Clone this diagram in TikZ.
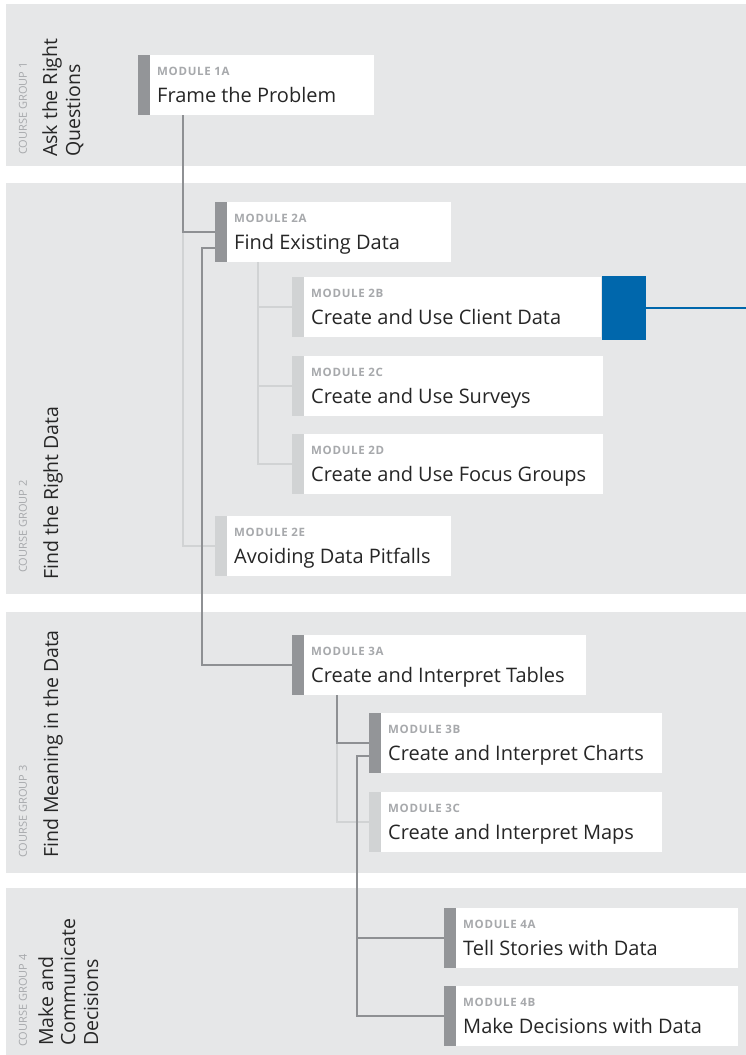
\documentclass[tikz,border=0pt]{standalone}
\usepackage{fontspec}
\setmainfont{Open Sans}
\newfontfamily\labelfont{Open Sans}[LetterSpace=6]
\usetikzlibrary{calc}

\definecolor{band}{HTML}{E6E7E8}
\definecolor{bardark}{HTML}{939598}
\definecolor{barlight}{HTML}{D1D3D4}
\definecolor{linedark}{HTML}{8E9093}
\definecolor{linelight}{HTML}{D1D3D4}
\definecolor{modlabel}{HTML}{A7A9AC}
\definecolor{titletext}{HTML}{262626}
\definecolor{accent}{HTML}{0067AC}

\tikzset{
  bandfill/.style={fill=band, draw=none},
  modbody/.style={fill=white, draw=none, inner sep=0pt, minimum height=60pt, anchor=north west},
  modbar/.style={fill=#1, draw=none, inner sep=0pt, minimum width=12pt, minimum height=60pt, anchor=north east},
  modlbl/.style={anchor=base west, inner sep=0pt, text=modlabel, font=\labelfont\fontsize{11.5}{13}\selectfont\bfseries},
  modttl/.style={anchor=base west, inner sep=0pt, text=titletext, font=\fontsize{20}{24}\selectfont},
  grplbl/.style={anchor=base west, inner sep=0pt, rotate=90, text=modlabel, font=\fontsize{11}{13}\selectfont},
  grpttl/.style={anchor=base west, inner sep=0pt, rotate=90, text=titletext, font=\fontsize{19.5}{23}\selectfont},
  darkline/.style={draw=linedark, line width=2.4pt},
  lightline/.style={draw=linelight, line width=2pt},
  accentline/.style={draw=accent, line width=2pt},
}

% #1 name, #2 bar colour, #3 bar left x, #4 top y, #5 body width, #6 label, #7 title
\newcommand\modulecard[7]{%
  \node[modbody, minimum width=#5pt] (m#1) at (#3+12,#4) {};
  \node[modbar=#2] (b#1) at (m#1.north west) {};
  \node[modlbl] (l#1) at ($(m#1.north west)+(7,20)$) {#6};
  \node[modttl] (t#1) at ($(m#1.north west)+(7,47)$) {#7};
}

\begin{document}
\begin{tikzpicture}[x=1pt,y=-1pt]
\useasboundingbox (0,0) rectangle (746,1055);
\fill[white] (0,0) rectangle (746,1055);

% course group bands
\fill[bandfill] (6,4) rectangle (746,166);
\fill[bandfill] (6,183) rectangle (746,594);
\fill[bandfill] (6,612) rectangle (746,873);
\fill[bandfill] (6,888) rectangle (746,1055);

% course group headings
\node[grplbl] (g1) at (27,155) {COURSE GROUP 1};
\node[grpttl] (g1a) at (57,157) {Ask the Right};
\node[grpttl] (g1b) at (80,157) {Questions};

\node[grplbl] (g2) at (27,573) {COURSE GROUP 2};
\node[grpttl] (g2a) at (58,580) {Find the Right Data};

\node[grplbl] (g3) at (27,858) {COURSE GROUP 3};
\node[grpttl] (g3a) at (58,858) {Find Meaning in the Data};

\node[grplbl] (g4) at (27,1047) {COURSE GROUP 4};
\node[grpttl] (g4a) at (53,1046) {Make and};
\node[grpttl] (g4b) at (75,1046) {Communicate};
\node[grpttl] (g4c) at (98,1046) {Decisions};

% module cards
\modulecard{1a}{bardark}{138}{55}{224}{MODULE 1A}{Frame the Problem}
\modulecard{2a}{bardark}{215}{202}{224}{MODULE 2A}{Find Existing Data}
\modulecard{2b}{barlight}{292}{277}{297}{MODULE 2B}{Create and Use Client Data}
\modulecard{2c}{barlight}{292}{356}{299}{MODULE 2C}{Create and Use Surveys}
\modulecard{2d}{barlight}{292}{434}{299}{MODULE 2D}{Create and Use Focus Groups}
\modulecard{2e}{barlight}{215}{516}{224}{MODULE 2E}{Avoiding Data Pitfalls}
\modulecard{3a}{bardark}{292}{635}{282}{MODULE 3A}{Create and Interpret Tables}
\modulecard{3b}{bardark}{369}{713}{281}{MODULE 3B}{Create and Interpret Charts}
\modulecard{3c}{barlight}{369}{792}{281}{MODULE 3C}{Create and Interpret Maps}
\modulecard{4a}{bardark}{444}{908}{282}{MODULE 4A}{Tell Stories with Data}
\modulecard{4b}{bardark}{444}{986}{282}{MODULE 4B}{Make Decisions with Data}

% highlight marker on module 2B
\node[fill=accent, inner sep=0pt, minimum width=44pt, minimum height=64pt, anchor=north west] (hl) at ($(m2b.north east)+(0,-1)$) {};
\coordinate (hlend) at (746,307);
\draw[accentline] (hl.east) -- (hl.east -| hlend);

% stems leaving the cards
\coordinate (s1) at ($(m1a.south west)+(33,0)$);
\coordinate (s2) at ($(m2a.south west)+(31,0)$);
\coordinate (s3) at ($(m3a.south west)+(33,0)$);
\coordinate (o2a) at ($(b2a.west)+(0,16)$);
\coordinate (o3b) at ($(b3b.west)+(0,13)$);
\coordinate (r2) at (202,0);
\coordinate (r3) at (357,0);

% optional paths (light)
\draw[lightline] (s1 |- b2a.west) |- (b2e.west);
\draw[lightline] (s2) |- (b2d.west);
\draw[lightline] (s2 |- b2b.west) -- (b2b.west);
\draw[lightline] (s2 |- b2c.west) -- (b2c.west);
\draw[lightline] (s3 |- b3b.west) |- (b3c.west);

% main path (dark)
\draw[darkline] (s1) |- (b2a.west);
\draw[darkline] (o2a) -- (r2 |- o2a) |- (b3a.west);
\draw[darkline] (s3) |- (b3b.west);
\draw[darkline] (o3b) -- (r3 |- o3b) |- (b4b.west);
\draw[darkline] (r3 |- b4a.west) -- (b4a.west);
\end{tikzpicture}
\end{document}
